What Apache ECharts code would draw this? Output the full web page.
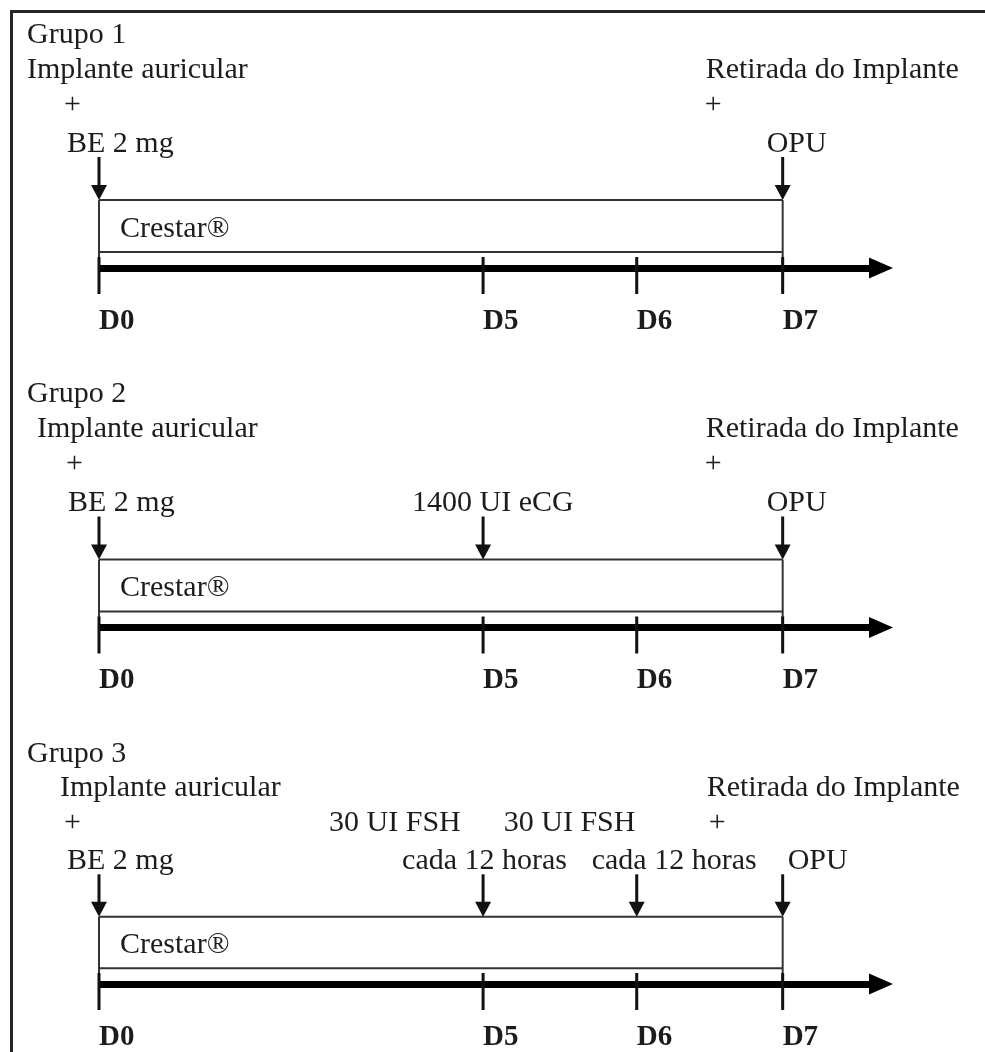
<!DOCTYPE html>
<html>
<head>
    <meta charset="utf-8">
    <title>Protocolo de sincronização - Grupos 1, 2 e 3</title>
    <script src="https://cdn.jsdelivr.net/npm/echarts@6.0.0/dist/echarts.min.js"></script>
    <style type="text/css">
        html, body {
            margin: 0;
            padding: 0;
            background: #ffffff;
        }
        #frame {
            position: absolute;
            left: 10px;
            top: 10px;
            right: 0;
            bottom: 0;
            border-left: 3px solid #262626;
            border-top: 3px solid #262626;
        }
        #main {
            position: absolute;
            left: 0;
            top: 0;
            width: 985px;
            height: 1052px;
        }
    </style>
</head>
<body>
<div id="frame"></div>
<div id="main"></div>
<script>
    // dados do esquema
    var groupNames = ['Grupo 1', 'Grupo 2', 'Grupo 3'];
    var dayNames = ['D0', 'D5', 'D6', 'D7'];
    var dayPos = [0, 5, 7, 8.9];        // posição de cada dia no eixo (o esquema não é proporcional)
    var implantName = 'Crestar®';
    var implantDays = [0, 3];           // implante do D0 ao D7 (índices em dayNames)

    var startText = ['Implante auricular', '+', 'BE 2 mg'];
    var endText = ['Retirada do Implante', '+', 'OPU'];
    var ecgText = ['1400 UI eCG'];
    var fshText = ['30 UI FSH', 'cada 12 horas'];

    // dias com seta (índices em dayNames) e o texto de cada seta, por grupo
    var doseDays = [[0, 3], [0, 1, 3], [0, 1, 2, 3]];
    var doseText = [
        [startText, endText],
        [startText, ecgText, endText],
        [startText, fshText, fshText, endText]
    ];

    // layout
    var font = "'Liberation Serif', 'Times New Roman', serif";
    var ink = '#1c1c1c';
    var groupStep = 359.5;
    var gridTop = 13;
    var gridH = 255;                    // o eixo fica na base do grid
    var rowY = [57, 92, 131];
    var arrowTop = 144, boxTop = 187, boxBottom = 239;
    var xMax = 10.18;
    // deslocamento horizontal (px) de cada linha de texto em relação à seta
    var lineDx = [
        [[-72, -35, -32], [-77, -78, -16]],
        [[-62, -33, -31], [-71], [-77, -78, -16]],
        [[-39, -35, -32], [-154, -81], [-133, -45], [-76, -74, 5]]
    ];

    var chart = echarts.init(document.getElementById('main'));

    var grids = [], xAxes = [], yAxes = [], titles = [], series = [];

    groupNames.forEach(function (name, g) {
        var top = gridTop + g * groupStep;

        grids.push({left: 99, right: 104, top: top, height: gridH});

        titles.push({
            text: name,
            left: 27,
            top: top + 7,
            padding: 0,
            textStyle: {fontFamily: font, fontSize: 30, fontWeight: 'normal', color: ink}
        });

        xAxes.push({
            type: 'value',
            gridIndex: g,
            min: 0,
            max: xMax,
            axisLine: {
                onZero: false,
                symbol: ['none', 'triangle'],
                symbolSize: [21, 24],
                lineStyle: {color: '#000', width: 7, cap: 'butt'}
            },
            axisTick: {show: false},
            splitLine: {show: false},
            axisLabel: {
                customValues: dayPos,
                formatter: function (v) {
                    return dayNames[dayPos.indexOf(v)];
                },
                align: 'left',
                margin: 39,
                fontFamily: font,
                fontSize: 29,
                fontWeight: 'bold',
                color: ink
            }
        });

        yAxes.push({type: 'value', gridIndex: g, min: 0, max: gridH, inverse: true, show: false});

        // marcas dos dias sobre o eixo
        series.push({
            type: 'custom',
            xAxisIndex: g,
            yAxisIndex: g,
            silent: true,
            z: 3,
            data: dayPos.map(function (v) { return [v]; }),
            renderItem: function (params, api) {
                var p = api.coord([api.value(0), gridH]);
                return {
                    type: 'line',
                    shape: {x1: p[0], y1: p[1] - 11, x2: p[0], y2: p[1] + 26},
                    style: {stroke: '#111', lineWidth: 3}
                };
            }
        });

        // caixa do implante
        series.push({
            type: 'custom',
            xAxisIndex: g,
            yAxisIndex: g,
            silent: true,
            data: [[dayPos[implantDays[0]], dayPos[implantDays[1]]]],
            renderItem: function (params, api) {
                var a = api.coord([api.value(0), boxTop]);
                var b = api.coord([api.value(1), boxBottom]);
                var axisY = api.coord([api.value(0), gridH])[1];
                var lineStyle = {stroke: '#333', lineWidth: 2};
                return {
                    type: 'group',
                    children: [
                        {type: 'line', shape: {x1: a[0], y1: a[1], x2: b[0], y2: a[1]}, style: lineStyle},
                        {type: 'line', shape: {x1: a[0], y1: b[1], x2: b[0], y2: b[1]}, style: lineStyle},
                        {type: 'line', shape: {x1: a[0], y1: a[1], x2: a[0], y2: axisY + 17}, style: lineStyle},
                        {type: 'line', shape: {x1: b[0], y1: a[1], x2: b[0], y2: axisY + 22}, style: lineStyle},
                        {
                            type: 'text',
                            x: a[0] + 21,
                            y: (a[1] + b[1]) / 2 + 3,
                            style: {
                                text: implantName,
                                fontFamily: font,
                                fontSize: 30,
                                fill: ink,
                                align: 'left',
                                verticalAlign: 'middle'
                            }
                        }
                    ]
                };
            }
        });

        // setas
        series.push({
            type: 'custom',
            xAxisIndex: g,
            yAxisIndex: g,
            silent: true,
            data: doseDays[g].map(function (d) { return [dayPos[d]]; }),
            renderItem: function (params, api) {
                var t = api.coord([api.value(0), arrowTop]);
                var tip = api.coord([api.value(0), boxTop]);
                var head = 15, half = 8;
                return {
                    type: 'group',
                    children: [
                        {
                            type: 'line',
                            shape: {x1: t[0], y1: t[1], x2: tip[0], y2: tip[1] - head + 1},
                            style: {stroke: '#111', lineWidth: 3}
                        },
                        {
                            type: 'polygon',
                            shape: {points: [[tip[0] - half, tip[1] - head], [tip[0] + half, tip[1] - head], [tip[0], tip[1]]]},
                            style: {fill: '#111'}
                        }
                    ]
                };
            }
        });

        // textos de cada seta
        var items = [];
        doseDays[g].forEach(function (d, i) {
            var lines = doseText[g][i];
            lines.forEach(function (txt, j) {
                items.push({
                    name: txt,
                    value: [dayPos[d], rowY[rowY.length - lines.length + j]],
                    label: {offset: [lineDx[g][i][j], 0]}
                });
            });
        });
        series.push({
            type: 'scatter',
            xAxisIndex: g,
            yAxisIndex: g,
            silent: true,
            symbolSize: 0,
            itemStyle: {opacity: 1},
            data: items,
            label: {
                show: true,
                position: 'inside',
                formatter: '{b}',
                align: 'left',
                verticalAlign: 'middle',
                fontFamily: font,
                fontSize: 30,
                color: ink,
                opacity: 1
            }
        });
    });

    chart.setOption({
        animation: false,
        backgroundColor: 'transparent',
        title: titles,
        grid: grids,
        xAxis: xAxes,
        yAxis: yAxes,
        series: series
    });
</script>
</body>
</html>
